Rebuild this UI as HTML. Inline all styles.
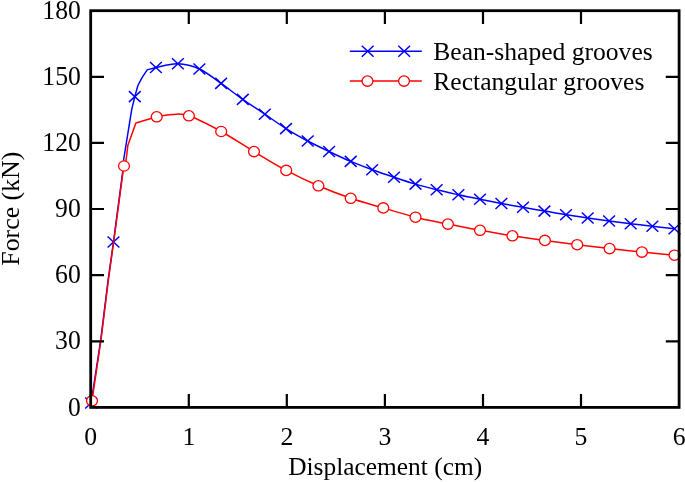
<!DOCTYPE html>
<html><head><meta charset="utf-8"><title>Force-Displacement</title>
<style>html,body{margin:0;padding:0;background:#fff}svg{display:block;will-change:transform}text{font-family:"Liberation Serif",serif;fill:#000}</style></head><body>
<svg width="685" height="482" viewBox="0 0 685 482">
<rect width="685" height="482" fill="#fff"/>
<path d="M91.1 403.0 L100.7 340.0 L108.1 280.0 L113.5 242.0 L115.0 230.0 L122.7 172.0 L123.6 160.0 L131.7 109.7 L134.8 96.6 L137.9 85.5 L142.2 77.4 L147.2 69.9 L155.9 67.5 C161.0 66.5 170.7 63.5 177.9 63.8 C185.2 64.0 192.2 65.7 199.4 69.0 C206.6 72.3 213.9 78.3 221.1 83.4 C228.3 88.5 235.5 94.3 242.8 99.4 C250.1 104.5 257.6 109.3 264.8 114.2 C272.0 119.1 278.9 124.1 286.0 128.6 C293.1 133.1 300.5 137.2 307.7 141.0 C314.9 144.8 321.9 148.1 329.1 151.5 C336.3 154.9 343.5 158.4 350.7 161.4 C357.9 164.4 365.0 167.1 372.2 169.7 C379.4 172.3 386.8 174.8 394.0 177.2 C401.2 179.6 408.4 182.0 415.5 184.1 C422.6 186.2 429.6 188.0 436.7 189.8 C443.8 191.6 451.2 193.2 458.4 194.8 C465.6 196.4 472.8 197.8 480.0 199.2 C487.2 200.6 494.2 202.2 501.4 203.5 C508.6 204.8 515.8 206.0 523.0 207.3 C530.2 208.6 537.2 209.8 544.4 211.1 C551.6 212.3 558.8 213.7 566.0 214.8 C573.2 216.0 580.5 217.0 587.7 218.0 C594.9 219.0 601.9 220.0 609.1 221.0 C616.3 222.0 623.5 222.9 630.7 223.8 C637.9 224.7 645.1 225.5 652.4 226.3 C659.7 227.1 670.8 228.4 674.5 228.8" fill="none" stroke="#0000ff" stroke-width="1.5" stroke-linejoin="round"/>
<path d="M85.2 397.5L97.0 408.5M85.2 408.5L97.0 397.5M107.6 236.5L119.4 247.5M107.6 247.5L119.4 236.5M128.9 91.1L140.7 102.1M128.9 102.1L140.7 91.1M150.0 62.0L161.8 73.0M150.0 73.0L161.8 62.0M172.0 58.3L183.8 69.3M172.0 69.3L183.8 58.3M193.5 63.5L205.3 74.5M193.5 74.5L205.3 63.5M215.2 77.9L227.0 88.9M215.2 88.9L227.0 77.9M236.9 93.9L248.7 104.9M236.9 104.9L248.7 93.9M258.9 108.7L270.7 119.7M258.9 119.7L270.7 108.7M280.1 123.1L291.9 134.1M280.1 134.1L291.9 123.1M301.8 135.5L313.6 146.5M301.8 146.5L313.6 135.5M323.2 146.0L335.0 157.0M323.2 157.0L335.0 146.0M344.8 155.9L356.6 166.9M344.8 166.9L356.6 155.9M366.3 164.2L378.1 175.2M366.3 175.2L378.1 164.2M388.1 171.7L399.9 182.7M388.1 182.7L399.9 171.7M409.6 178.6L421.4 189.6M409.6 189.6L421.4 178.6M430.8 184.3L442.6 195.3M430.8 195.3L442.6 184.3M452.5 189.3L464.3 200.3M452.5 200.3L464.3 189.3M474.1 193.7L485.9 204.7M474.1 204.7L485.9 193.7M495.5 198.0L507.3 209.0M495.5 209.0L507.3 198.0M517.1 201.8L528.9 212.8M517.1 212.8L528.9 201.8M538.5 205.6L550.3 216.6M538.5 216.6L550.3 205.6M560.1 209.3L571.9 220.3M560.1 220.3L571.9 209.3M581.8 212.5L593.6 223.5M581.8 223.5L593.6 212.5M603.2 215.5L615.0 226.5M603.2 226.5L615.0 215.5M624.8 218.3L636.6 229.3M624.8 229.3L636.6 218.3M646.5 220.8L658.3 231.8M646.5 231.8L658.3 220.8M668.6 223.3L680.4 234.3M668.6 234.3L680.4 223.3" fill="none" stroke="#0000ff" stroke-width="1.5"/>
<path d="M92.0 400.7 L101.0 340.0 L108.4 280.0 L113.6 242.0 L115.3 230.0 L123.0 172.0 L124.3 166.0 L126.1 160.0 L127.9 145.2 L135.9 123.0 L156.7 116.7 C162.9 115.4 167.5 114.6 172.9 114.4 C178.3 114.2 180.9 113.0 188.9 115.8 C196.9 118.6 210.3 125.5 221.2 131.5 C232.0 137.5 243.2 145.1 254.0 151.6 C264.8 158.1 275.5 164.7 286.2 170.4 C296.9 176.1 307.6 181.2 318.4 185.8 C329.1 190.5 339.9 194.6 350.7 198.3 C361.5 202.0 372.5 204.8 383.3 207.9 C394.1 211.1 404.7 214.5 415.5 217.2 C426.3 219.9 437.1 221.9 447.9 224.1 C458.6 226.3 469.2 228.4 480.0 230.3 C490.8 232.2 501.6 234.1 512.4 235.8 C523.2 237.5 534.1 238.9 544.9 240.4 C555.7 241.9 566.4 243.3 577.2 244.7 C588.0 246.1 598.8 247.4 609.6 248.6 C620.4 249.8 631.1 251.0 641.9 252.1 C652.7 253.2 669.1 254.7 674.5 255.2" fill="none" stroke="#ff0000" stroke-width="1.5" stroke-linejoin="round"/>
<ellipse cx="92.0" cy="400.8" rx="5.45" ry="5.15" fill="#fff" stroke="#ff0000" stroke-width="1.3"/>
<ellipse cx="124.0" cy="166.0" rx="5.45" ry="5.15" fill="#fff" stroke="#ff0000" stroke-width="1.3"/>
<ellipse cx="156.7" cy="116.8" rx="5.45" ry="5.15" fill="#fff" stroke="#ff0000" stroke-width="1.3"/>
<ellipse cx="188.9" cy="115.8" rx="5.45" ry="5.15" fill="#fff" stroke="#ff0000" stroke-width="1.3"/>
<ellipse cx="221.2" cy="131.5" rx="5.45" ry="5.15" fill="#fff" stroke="#ff0000" stroke-width="1.3"/>
<ellipse cx="254.0" cy="151.6" rx="5.45" ry="5.15" fill="#fff" stroke="#ff0000" stroke-width="1.3"/>
<ellipse cx="286.2" cy="170.4" rx="5.45" ry="5.15" fill="#fff" stroke="#ff0000" stroke-width="1.3"/>
<ellipse cx="318.4" cy="185.8" rx="5.45" ry="5.15" fill="#fff" stroke="#ff0000" stroke-width="1.3"/>
<ellipse cx="350.7" cy="198.3" rx="5.45" ry="5.15" fill="#fff" stroke="#ff0000" stroke-width="1.3"/>
<ellipse cx="383.3" cy="207.9" rx="5.45" ry="5.15" fill="#fff" stroke="#ff0000" stroke-width="1.3"/>
<ellipse cx="415.5" cy="217.2" rx="5.45" ry="5.15" fill="#fff" stroke="#ff0000" stroke-width="1.3"/>
<ellipse cx="447.9" cy="224.1" rx="5.45" ry="5.15" fill="#fff" stroke="#ff0000" stroke-width="1.3"/>
<ellipse cx="480.0" cy="230.3" rx="5.45" ry="5.15" fill="#fff" stroke="#ff0000" stroke-width="1.3"/>
<ellipse cx="512.4" cy="235.8" rx="5.45" ry="5.15" fill="#fff" stroke="#ff0000" stroke-width="1.3"/>
<ellipse cx="544.9" cy="240.4" rx="5.45" ry="5.15" fill="#fff" stroke="#ff0000" stroke-width="1.3"/>
<ellipse cx="577.2" cy="244.7" rx="5.45" ry="5.15" fill="#fff" stroke="#ff0000" stroke-width="1.3"/>
<ellipse cx="609.6" cy="248.6" rx="5.45" ry="5.15" fill="#fff" stroke="#ff0000" stroke-width="1.3"/>
<ellipse cx="641.9" cy="252.1" rx="5.45" ry="5.15" fill="#fff" stroke="#ff0000" stroke-width="1.3"/>
<ellipse cx="674.5" cy="255.2" rx="5.45" ry="5.15" fill="#fff" stroke="#ff0000" stroke-width="1.3"/>
<path d="M349.8 51.2H421.8" stroke="#0000ff" stroke-width="1.5"/>
<path d="M361.8 45.7L373.6 56.7M361.8 56.7L373.6 45.7M398.3 45.7L410.1 56.7M398.3 56.7L410.1 45.7" fill="none" stroke="#0000ff" stroke-width="1.5"/>
<path d="M349.8 81.1H421.8" stroke="#ff0000" stroke-width="1.5"/>
<ellipse cx="367.5" cy="81.1" rx="5.45" ry="5.15" fill="#fff" stroke="#ff0000" stroke-width="1.3"/>
<ellipse cx="404.0" cy="81.1" rx="5.45" ry="5.15" fill="#fff" stroke="#ff0000" stroke-width="1.3"/>
<text x="433.3" y="59.8" font-size="25.3" textLength="219.4" lengthAdjust="spacingAndGlyphs">Bean-shaped grooves</text>
<text x="433.3" y="90.3" font-size="25.3" textLength="211.1" lengthAdjust="spacingAndGlyphs">Rectangular grooves</text>
<path d="M188.8 407.4V394.1M188.8 10.7V24.0M286.8 407.4V394.1M286.8 10.7V24.0M384.9 407.4V394.1M384.9 10.7V24.0M483.0 407.4V394.1M483.0 10.7V24.0M581.0 407.4V394.1M581.0 10.7V24.0M90.7 341.3H104.0M679.1 341.3H665.8M90.7 275.2H104.0M679.1 275.2H665.8M90.7 209.0H104.0M679.1 209.0H665.8M90.7 142.9H104.0M679.1 142.9H665.8M90.7 76.8H104.0M679.1 76.8H665.8" stroke="#000" stroke-width="2.2" fill="none"/>
<rect x="90.7" y="10.7" width="588.4" height="396.7" fill="none" stroke="#000" stroke-width="2.8"/>
<text x="90.7" y="444.6" font-size="25.7" text-anchor="middle">0</text>
<text x="188.8" y="444.6" font-size="25.7" text-anchor="middle">1</text>
<text x="286.8" y="444.6" font-size="25.7" text-anchor="middle">2</text>
<text x="384.9" y="444.6" font-size="25.7" text-anchor="middle">3</text>
<text x="483.0" y="444.6" font-size="25.7" text-anchor="middle">4</text>
<text x="581.0" y="444.6" font-size="25.7" text-anchor="middle">5</text>
<text x="679.1" y="444.6" font-size="25.7" text-anchor="middle">6</text>
<text x="80.8" y="415.5" font-size="26.3" text-anchor="end" textLength="12.8" lengthAdjust="spacingAndGlyphs">0</text>
<text x="80.8" y="349.4" font-size="26.3" text-anchor="end" textLength="25.7" lengthAdjust="spacingAndGlyphs">30</text>
<text x="80.8" y="283.3" font-size="26.3" text-anchor="end" textLength="25.7" lengthAdjust="spacingAndGlyphs">60</text>
<text x="80.8" y="217.1" font-size="26.3" text-anchor="end" textLength="25.7" lengthAdjust="spacingAndGlyphs">90</text>
<text x="80.8" y="151.0" font-size="26.3" text-anchor="end" textLength="38.5" lengthAdjust="spacingAndGlyphs">120</text>
<text x="80.8" y="84.9" font-size="26.3" text-anchor="end" textLength="38.5" lengthAdjust="spacingAndGlyphs">150</text>
<text x="80.8" y="18.8" font-size="26.3" text-anchor="end" textLength="38.5" lengthAdjust="spacingAndGlyphs">180</text>
<text x="385.2" y="474.9" font-size="25.3" text-anchor="middle" textLength="194" lengthAdjust="spacingAndGlyphs">Displacement (cm)</text>
<text transform="translate(19.1 208.7) rotate(-90)" font-size="25.3" text-anchor="middle" textLength="114" lengthAdjust="spacingAndGlyphs">Force (kN)</text>
</svg></body></html>
